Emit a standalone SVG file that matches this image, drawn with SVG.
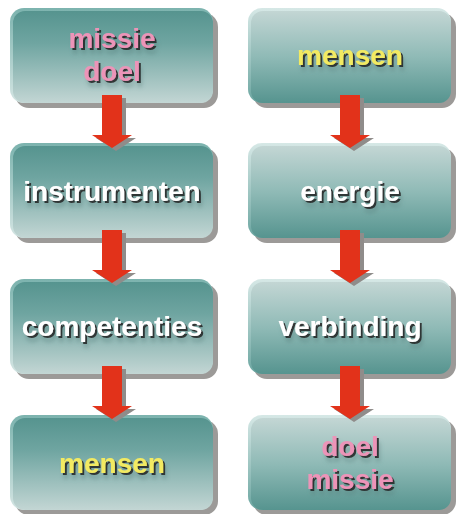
<svg xmlns="http://www.w3.org/2000/svg" width="456" height="514" viewBox="0 0 456 514">
<defs>
<linearGradient id="gDown" x1="0" y1="0" x2="0" y2="1">
<stop offset="0" stop-color="#56948f"/>
<stop offset="0.35" stop-color="#6fa5a1"/>
<stop offset="1" stop-color="#c3d6d4"/>
</linearGradient>
<linearGradient id="gUp" x1="0" y1="0" x2="0" y2="1">
<stop offset="0" stop-color="#c3d6d4"/>
<stop offset="0.5" stop-color="#8fbab6"/>
<stop offset="1" stop-color="#56948f"/>
</linearGradient>
<linearGradient id="rimDown" x1="0" y1="0" x2="0" y2="1">
<stop offset="0" stop-color="#7cb3ae"/>
<stop offset="1" stop-color="#d4e5e3"/>
</linearGradient>
<linearGradient id="rimUp" x1="0" y1="0" x2="0" y2="1">
<stop offset="0" stop-color="#d6e8e6"/>
<stop offset="1" stop-color="#6ca6a1"/>
</linearGradient>
<filter id="ts" x="-10%" y="-30%" width="130%" height="180%">
<feGaussianBlur in="SourceAlpha" stdDeviation="2" result="b"/>
<feOffset in="b" dx="3" dy="6" result="ob"/>
<feFlood flood-color="#557a78" flood-opacity="0.45"/>
<feComposite in2="ob" operator="in" result="ghost"/>
<feOffset in="SourceAlpha" dx="2" dy="2" result="o"/>
<feFlood flood-color="#2a2a2a" flood-opacity="0.9"/>
<feComposite in2="o" operator="in" result="hard"/>
<feMerge><feMergeNode in="ghost"/><feMergeNode in="hard"/><feMergeNode in="SourceGraphic"/></feMerge>
</filter>
</defs>
<style>
.sh{fill:#9c9a98}
.lab{font-family:"Liberation Sans",Arial,sans-serif;font-weight:bold;font-size:28px;text-anchor:middle;filter:url(#ts)}
.w{fill:#ffffff}
.p{fill:#ec94b8}
.y{fill:#f2ea62}
.arr{fill:#e2321a}
.ash{fill:#8f8c8a}
</style>

<g id="n1">
<rect class="sh" x="15" y="13" width="203" height="95" rx="14"/>
<rect x="10" y="8" width="203" height="95" rx="14" fill="url(#rimDown)"/>
<rect x="13" y="11" width="200" height="92" rx="12" fill="url(#gDown)"/>
<text class="lab p" x="112" y="48">missie</text>
<text class="lab p" x="112" y="81">doel</text>
</g>
<g id="n2">
<rect class="sh" x="15" y="148" width="203" height="95" rx="14"/>
<rect x="10" y="143" width="203" height="95" rx="14" fill="url(#rimDown)"/>
<rect x="13" y="146" width="200" height="92" rx="12" fill="url(#gDown)"/>
<text class="lab w" x="112" y="201">instrumenten</text>
</g>
<g id="n3">
<rect class="sh" x="15" y="284" width="203" height="95" rx="14"/>
<rect x="10" y="279" width="203" height="95" rx="14" fill="url(#rimDown)"/>
<rect x="13" y="282" width="200" height="92" rx="12" fill="url(#gDown)"/>
<text class="lab w" x="112" y="336">competenties</text>
</g>
<g id="n4">
<rect class="sh" x="15" y="420" width="203" height="95" rx="14"/>
<rect x="10" y="415" width="203" height="95" rx="14" fill="url(#rimDown)"/>
<rect x="13" y="418" width="200" height="92" rx="12" fill="url(#gDown)"/>
<text class="lab y" x="112" y="473">mensen</text>
</g>

<g id="n5">
<rect class="sh" x="253" y="13" width="203" height="95" rx="14"/>
<rect x="248" y="8" width="203" height="95" rx="14" fill="url(#rimUp)"/>
<rect x="251" y="11" width="200" height="92" rx="12" fill="url(#gUp)"/>
<text class="lab y" x="350" y="65">mensen</text>
</g>
<g id="n6">
<rect class="sh" x="253" y="148" width="203" height="95" rx="14"/>
<rect x="248" y="143" width="203" height="95" rx="14" fill="url(#rimUp)"/>
<rect x="251" y="146" width="200" height="92" rx="12" fill="url(#gUp)"/>
<text class="lab w" x="350" y="201">energie</text>
</g>
<g id="n7">
<rect class="sh" x="253" y="284" width="203" height="95" rx="14"/>
<rect x="248" y="279" width="203" height="95" rx="14" fill="url(#rimUp)"/>
<rect x="251" y="282" width="200" height="92" rx="12" fill="url(#gUp)"/>
<text class="lab w" x="350" y="336">verbinding</text>
</g>
<g id="n8">
<rect class="sh" x="253" y="420" width="203" height="95" rx="14"/>
<rect x="248" y="415" width="203" height="95" rx="14" fill="url(#rimUp)"/>
<rect x="251" y="418" width="200" height="92" rx="12" fill="url(#gUp)"/>
<text class="lab p" x="350" y="456">doel</text>
<text class="lab p" x="350" y="489">missie</text>
</g>

<g id="connectors">
<g transform="translate(0,0)">
<path class="ash" d="M106,98 H126 V138 H136 L116,151 L96,138 H106 Z"/>
<path class="arr" d="M102,95 H122 V135 H132 L112,148 L92,135 H102 Z"/>
</g>
<g transform="translate(0,135)">
<path class="ash" d="M106,98 H126 V138 H136 L116,151 L96,138 H106 Z"/>
<path class="arr" d="M102,95 H122 V135 H132 L112,148 L92,135 H102 Z"/>
</g>
<g transform="translate(0,271)">
<path class="ash" d="M106,98 H126 V138 H136 L116,151 L96,138 H106 Z"/>
<path class="arr" d="M102,95 H122 V135 H132 L112,148 L92,135 H102 Z"/>
</g>
<g transform="translate(238,0)">
<path class="ash" d="M106,98 H126 V138 H136 L116,151 L96,138 H106 Z"/>
<path class="arr" d="M102,95 H122 V135 H132 L112,148 L92,135 H102 Z"/>
</g>
<g transform="translate(238,135)">
<path class="ash" d="M106,98 H126 V138 H136 L116,151 L96,138 H106 Z"/>
<path class="arr" d="M102,95 H122 V135 H132 L112,148 L92,135 H102 Z"/>
</g>
<g transform="translate(238,271)">
<path class="ash" d="M106,98 H126 V138 H136 L116,151 L96,138 H106 Z"/>
<path class="arr" d="M102,95 H122 V135 H132 L112,148 L92,135 H102 Z"/>
</g>
</g>
</svg>
